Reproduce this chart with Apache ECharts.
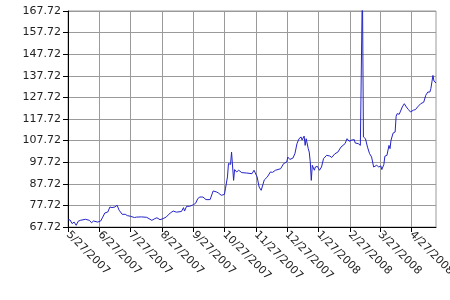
<!DOCTYPE html>
<html>
<head>
<meta charset="utf-8">
<script src="https://cdn.jsdelivr.net/npm/echarts@6/dist/echarts.min.js"></script>
<style>html,body{margin:0;padding:0;background:#fff}#c{width:450px;height:300px}</style>
</head>
<body>
<div id="c"></div>
<script>
// ---- data ----
const dates = [
'2007-05-27','2007-05-29','2007-05-31','2007-06-02','2007-06-04','2007-06-06','2007-06-08','2007-06-13','2007-06-17','2007-06-19',
'2007-06-21','2007-06-25','2007-06-28','2007-06-30','2007-07-02','2007-07-05','2007-07-07','2007-07-09','2007-07-12','2007-07-14',
'2007-07-16','2007-07-19','2007-07-22','2007-07-24','2007-07-27','2007-07-31','2007-08-02','2007-08-07','2007-08-08','2007-08-12',
'2007-08-13','2007-08-17','2007-08-20','2007-08-22','2007-08-25','2007-08-28','2007-08-31','2007-09-04','2007-09-07','2007-09-10',
'2007-09-15','2007-09-17','2007-09-18','2007-09-20','2007-09-23','2007-09-27','2007-09-29','2007-10-01','2007-10-03','2007-10-06',
'2007-10-09','2007-10-13','2007-10-16','2007-10-19','2007-10-21','2007-10-24','2007-10-27','2007-10-28','2007-10-30','2007-10-31',
'2007-11-02','2007-11-03','2007-11-05','2007-11-06','2007-11-08','2007-11-10','2007-11-13','2007-11-18','2007-11-23','2007-11-25',
'2007-11-28','2007-11-30','2007-12-02','2007-12-03','2007-12-05','2007-12-08','2007-12-11','2007-12-13','2007-12-16','2007-12-21',
'2007-12-24','2007-12-27','2007-12-28','2007-12-30','2008-01-02','2008-01-04','2008-01-06','2008-01-08','2008-01-10','2008-01-11',
'2008-01-13','2008-01-14','2008-01-15','2008-01-17','2008-01-18','2008-01-19','2008-01-20','2008-01-21','2008-01-23','2008-01-24',
'2008-01-26','2008-01-28','2008-01-30','2008-02-01','2008-02-04','2008-02-07','2008-02-09','2008-02-12','2008-02-15','2008-02-18',
'2008-02-22','2008-02-24','2008-02-26','2008-02-28','2008-03-02','2008-03-03','2008-03-06','2008-03-08','2008-03-10','2008-03-11',
'2008-03-13','2008-03-15','2008-03-17','2008-03-19','2008-03-21','2008-03-24','2008-03-26','2008-03-28','2008-03-29','2008-03-31',
'2008-04-01','2008-04-03','2008-04-05','2008-04-06','2008-04-07','2008-04-09','2008-04-11','2008-04-12','2008-04-13','2008-04-15',
'2008-04-16','2008-04-18','2008-04-20','2008-04-22','2008-04-24','2008-04-26','2008-04-29','2008-05-01','2008-05-03','2008-05-06',
'2008-05-09','2008-05-11','2008-05-13','2008-05-15','2008-05-16','2008-05-18','2008-05-19','2008-05-21'
];
const values = [
71.1,71.0,69.3,70.0,68.5,70.4,70.8,71.3,70.8,69.7,
70.5,70.0,70.5,72.3,74.2,74.7,77.0,76.7,77.0,77.8,
75.5,73.6,73.6,73.0,72.7,72.1,72.3,72.4,72.7,72.2,
71.8,70.8,71.6,72.0,71.1,71.6,72.3,74.2,75.1,74.6,
74.9,76.7,75.1,77.3,77.3,78.1,78.8,80.9,81.6,81.6,
80.4,80.4,84.4,84.0,83.5,82.4,82.8,85.4,90.9,97.1,
96.7,102.4,89.3,94.3,93.2,94.0,92.9,92.7,92.4,94.0,
90.9,86.2,84.7,85.5,89.5,90.9,93.2,93.0,94.0,94.7,
97.1,97.8,100.1,99.0,99.6,101.7,106.3,108.6,109.4,108.0,
109.8,105.5,108.6,104.0,102.4,97.8,89.3,96.3,94.0,95.5,
95.8,94.0,95.5,99.4,100.9,100.6,99.9,101.6,102.4,104.7,
106.3,108.6,107.4,107.9,108.2,106.6,106.3,105.5,180.0,109.4,
108.6,104.7,101.7,100.1,95.5,96.3,95.5,96.0,94.3,96.7,
100.5,100.9,105.5,104.0,107.9,111.2,111.7,119.0,120.2,119.9,
121.0,123.3,124.8,123.3,122.1,121.0,121.8,122.1,123.3,124.8,
125.5,128.7,130.2,130.2,131.8,137.9,135.3,134.4
];
const xTickLabels = ['5/27/2007','6/27/2007','7/27/2007','8/27/2007','9/27/2007','10/27/2007','11/27/2007','12/27/2007','1/27/2008','2/27/2008','3/27/2008','4/27/2008'];
const yTickLabels = ['67.72','77.72','87.72','97.72','107.72','117.72','127.72','137.72','147.72','157.72','167.72'];
const xStart = '2007-05-27';
const xEnd = '2008-05-21';

(function(){
function isoToTs(s){const p=s.split('-').map(Number);return Date.UTC(p[0],p[1]-1,p[2]);}
function fmtTs(v){const d=new Date(v);return (d.getUTCMonth()+1)+'/'+d.getUTCDate()+'/'+d.getUTCFullYear();}
const xMin = isoToTs(xStart), xMax = isoToTs(xEnd);
const yTicks = yTickLabels.map(Number);
const yMin = yTicks[0], yMax = yTicks[yTicks.length-1];
const seriesData = dates.map((d,i)=>[isoToTs(d), values[i]]);
// day-by-day calendar used as the visible date axis (ticks at the listed dates)
const DAY = 86400000;
const calendar = [];
for (let t = xMin; t <= xMax; t += DAY) calendar.push(fmtTs(t));
const tickSet = new Set(xTickLabels);
const isTick = (i, v) => tickSet.has(v);

const chart = echarts.init(document.getElementById('c'));
const font = 'DejaVu Sans';
const gridColor = '#9a9a9a';
chart.setOption({
  animation:false,
  grid:{left:68,top:11,right:14,bottom:73,show:true,borderColor:gridColor,outerBoundsMode:'none'},
  xAxis:[{
    type:'value', min:xMin, max:xMax,
    axisLine:{show:false}, axisTick:{show:false}, axisLabel:{show:false}, splitLine:{show:false}
  },{
    type:'category', data:calendar, boundaryGap:false, position:'bottom', offset:0,
    axisLine:{show:true,onZero:false,lineStyle:{color:'#000',width:1}},
    axisTick:{show:true,length:5,interval:isTick,lineStyle:{color:'#000',width:1}},
    axisLabel:{show:true,interval:isTick,rotate:-45,margin:6,fontFamily:font,fontSize:11,color:'#222'},
    splitLine:{show:true,interval:isTick,lineStyle:{color:gridColor,width:1}}
  }],
  yAxis:[{
    type:'value', min:yMin, max:yMax,
    axisLine:{show:false}, axisTick:{show:false}, axisLabel:{show:false}, splitLine:{show:false}
  },{
    type:'value', min:0, max:100, interval:10, position:'left', offset:0,
    axisLine:{show:true,lineStyle:{color:'#000',width:1}},
    axisTick:{show:true,length:5,lineStyle:{color:'#000',width:1}},
    axisLabel:{show:true,margin:7,fontFamily:font,fontSize:11,color:'#222',
      showMinLabel:true,showMaxLabel:true,
      formatter:function(v){return yTickLabels[Math.round(v/10)];}},
    splitLine:{show:true,lineStyle:{color:gridColor,width:1}}
  }],
  series:[{
    type:'line',
    xAxisIndex:0, yAxisIndex:0,
    data:seriesData,
    showSymbol:false,
    symbol:'none',
    clip:true,
    lineStyle:{color:'#2424c8',width:1},
    itemStyle:{color:'#2424c8'}
  }]
});
})();
</script>
</body>
</html>
